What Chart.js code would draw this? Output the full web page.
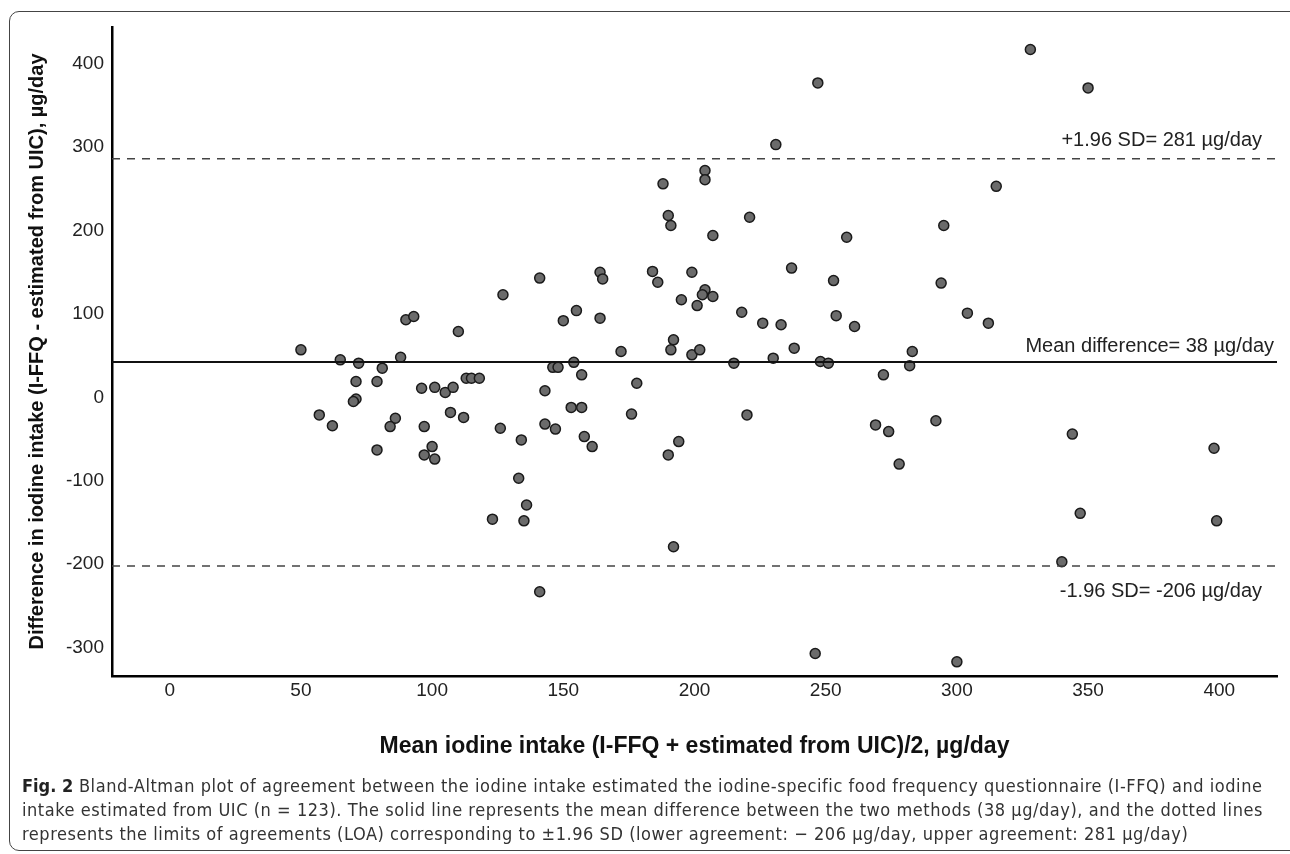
<!DOCTYPE html>
<html>
<head>
<meta charset="utf-8">
<script src="https://cdn.jsdelivr.net/npm/chart.js@4.4.1/dist/chart.umd.min.js"></script>
<style>
  html, body { margin: 0; padding: 0; background: #fff; }
  body { width: 1290px; height: 854px; position: relative; overflow: hidden; }
  #frame {
    position: absolute; left: 9px; top: 11px; width: 1300px; height: 840px;
    border: 1.5px solid #444; border-radius: 10px; box-sizing: border-box;
  }
  #wrap { position: absolute; left: 0; top: 0; width: 1290px; height: 780px; }
  #caption {
    position: absolute; left: 22px; top: 774px; width: 1266px;
    font-family: 'Liberation Sans Narrow', 'DejaVu Sans Condensed', sans-serif;
    font-size: 18px; letter-spacing: 0.55px; color: #333; line-height: 24px;
  }
  #caption div { white-space: nowrap; }
  #caption b { color: #222; letter-spacing: 0; }
</style>
</head>
<body>
<div id="frame"></div>
<div id="wrap"><canvas id="baChart" width="1290" height="780"></canvas></div>
<div id="caption">
  <div><b>Fig. 2</b> Bland-Altman plot of agreement between the iodine intake estimated the iodine-specific food frequency questionnaire (I-FFQ) and iodine</div>
  <div>intake estimated from UIC (n = 123). The solid line represents the mean difference between the two methods (38 µg/day), and the dotted lines</div>
  <div>represents the limits of agreements (LOA) corresponding to ±1.96 SD (lower agreement: − 206 µg/day, upper agreement: 281 µg/day)</div>
</div>
<script>
// mean of the two methods (x) and difference I-FFQ - UIC (y), µg/day
const meanIntake = [
  50, 65, 72, 71, 79, 81, 88, 90, 93, 71, 70, 57, 62, 79, 86, 84,
  96, 101, 105, 108, 97, 100, 97, 101, 107, 112, 110, 113, 115, 118, 127, 126,
  134, 133, 143, 146, 148, 154, 157, 150, 155, 164, 164, 165, 141, 153, 157, 143,
  147, 158, 161, 172, 136, 123, 135, 141, 231, 204, 204, 188, 190, 191, 221, 207,
  258, 184, 186, 199, 237, 253, 204, 203, 207, 195, 201, 218, 226, 233, 254, 261,
  192, 191, 199, 202, 215, 230, 238, 248, 251, 283, 282, 272, 178, 176, 220, 269,
  274, 278, 194, 190, 192, 246, 328, 350, 315, 295, 294, 304, 312, 292, 344, 398,
  347, 399, 340, 300, 247
];
const diffIntake = [
  57, 45, 41, 19, 19, 35, 48, 93, 97, -2, -5, -21, -34, -63, -25, -35,
  11, 12, 6, 12, -35, -59, -69, -74, -18, -24, 79, 23, 23, 23, 123, -37,
  -51, -97, 8, 36, 36, 42, 27, 92, 104, 95, 150, 142, 143, -12, -12, -32,
  -38, -47, -59, 55, -129, -146, -148, -233, 303, 272, 261, 256, 218, 206, 216, 194,
  192, 151, 138, 150, 155, 140, 129, 123, 121, 117, 110, 102, 89, 87, 98, 85,
  69, 57, 51, 57, 41, 47, 59, 43, 41, 55, 38, 27, 17, -20, -21, -33,
  -41, -80, -53, -69, -179, -307, 417, 371, 253, 206, 137, 101, 89, -28, -44, -61,
  -139, -148, -197, -317, 377
];

// reference lines as drawn in the figure
const meanDiff = 42.5;
const upperLoa = 286;
const lowerLoa = -202;
const lineLabels = ['Mean difference= 38 µg/day', '+1.96 SD= 281 µg/day', '-1.96 SD= -206 µg/day'];

const xTickValues = [0, 50, 100, 150, 200, 250, 300, 350, 400];
const yTickValues = [-300, -200, -100, 0, 100, 200, 300, 400];
const xRange = [-22, 422];
const yRange = [-334, 444];

const points = meanIntake.map((m, i) => ({ x: m, y: diffIntake[i] }));
const hLine = (v) => [{ x: xRange[0], y: v }, { x: xRange[1], y: v }];

const lineLabelPlugin = {
  id: 'lineLabels',
  afterDatasetsDraw(chart) {
    const { ctx, chartArea, scales: { y } } = chart;
    ctx.save();
    ctx.font = '20px "Liberation Sans", Arial, sans-serif';
    ctx.fillStyle = '#222';
    ctx.textAlign = 'right';
    ctx.textBaseline = 'alphabetic';
    ctx.fillText(lineLabels[0], chartArea.right - 3, y.getPixelForValue(meanDiff) - 10);
    ctx.fillText(lineLabels[1], chartArea.right - 15, y.getPixelForValue(upperLoa) - 13);
    ctx.fillText(lineLabels[2], chartArea.right - 15, y.getPixelForValue(lowerLoa) + 31);
    ctx.restore();
  }
};

const tickFont = { family: '"Liberation Sans", Arial, sans-serif', size: 19 };

new Chart(document.getElementById('baChart').getContext('2d'), {
  data: {
    datasets: [
      {
        type: 'line',
        data: hLine(meanDiff),
        borderColor: '#111',
        borderWidth: 2,
        pointRadius: 0,
        fill: false
      },
      {
        type: 'line',
        data: hLine(upperLoa),
        borderColor: '#444',
        borderWidth: 1.5,
        borderDash: [8, 7],
        pointRadius: 0,
        fill: false
      },
      {
        type: 'line',
        data: hLine(lowerLoa),
        borderColor: '#444',
        borderWidth: 1.5,
        borderDash: [8, 7],
        pointRadius: 0,
        fill: false
      },
      {
        type: 'scatter',
        data: points,
        backgroundColor: '#6b6b6b',
        borderColor: '#1a1a1a',
        borderWidth: 1.5,
        pointRadius: 5,
        pointHoverRadius: 5
      }
    ]
  },
  options: {
    responsive: false,
    animation: false,
    devicePixelRatio: 1,
    layout: { padding: { top: 27, right: 13, left: 0, bottom: 0 } },
    plugins: { legend: { display: false }, tooltip: { enabled: false } },
    scales: {
      x: {
        type: 'linear',
        min: xRange[0],
        max: xRange[1],
        afterFit: (s) => { s.height = 104; },
        afterBuildTicks: (s) => { s.ticks = xTickValues.map(v => ({ value: v })); },
        grid: { display: false, drawTicks: false },
        border: { display: true, color: '#000', width: 2.5 },
        ticks: { font: tickFont, color: '#222', padding: 3, maxRotation: 0 },
        title: {
          display: true,
          text: 'Mean iodine intake (I-FFQ + estimated from UIC)/2, µg/day',
          color: '#111',
          font: { family: '"Liberation Sans", Arial, sans-serif', size: 23, weight: 'bold' },
          padding: { top: 0, bottom: 20 }
        }
      },
      y: {
        type: 'linear',
        min: yRange[0],
        max: yRange[1],
        afterFit: (s) => { s.width = 112; },
        afterBuildTicks: (s) => { s.ticks = yTickValues.map(v => ({ value: v })); },
        grid: { display: false, drawTicks: false },
        border: { display: true, color: '#000', width: 2.5 },
        ticks: { font: tickFont, color: '#222', padding: 8 },
        title: {
          display: true,
          text: 'Difference in iodine intake (I-FFQ - estimated from UIC), µg/day',
          color: '#111',
          font: { family: '"Liberation Sans", Arial, sans-serif', size: 20, weight: 'bold' },
          padding: { top: 25, bottom: 0 }
        }
      }
    }
  },
  plugins: [lineLabelPlugin]
});
</script>
</body>
</html>
